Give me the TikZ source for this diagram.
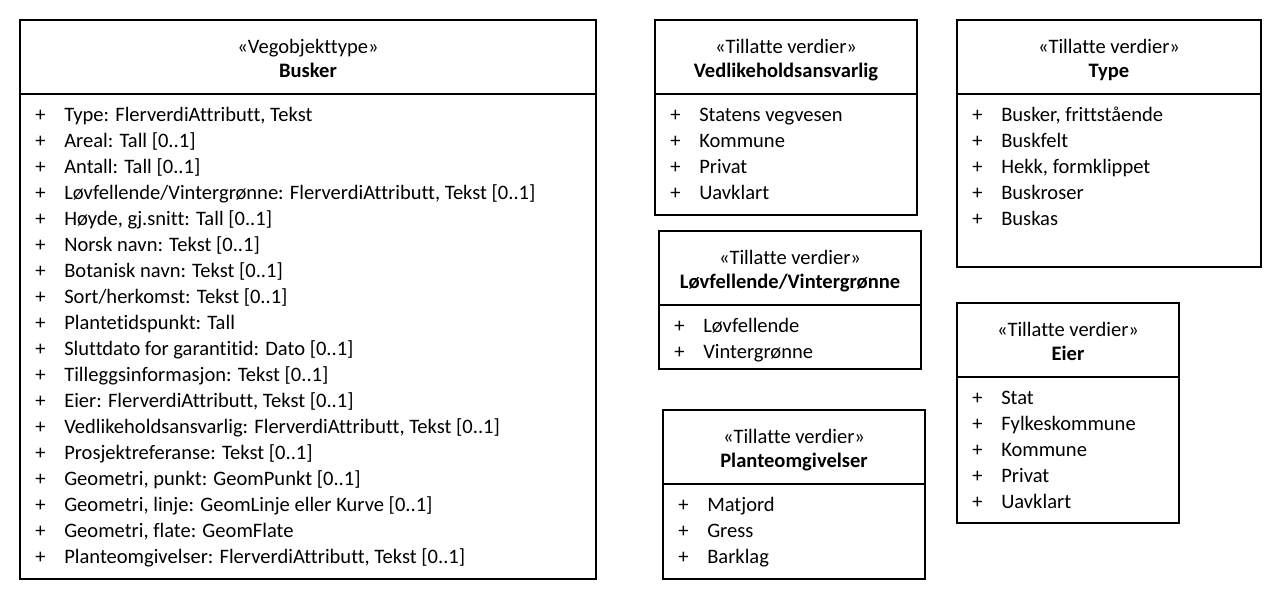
\documentclass[tikz,border=0pt]{standalone}
\usepackage{fontspec}
\setmainfont{Carlito}[Ligatures={NoCommon}]
\begin{document}
\begin{tikzpicture}[x=0.75pt,y=-0.75pt,
  frame/.style={draw=black,line width=0.8pt},
  txt/.style={inner sep=0pt,font=\fontsize{15.4pt}{18pt}\selectfont,text=black},
  title/.style={txt,anchor=base},
  item/.style={txt,anchor=base west}]
\useasboundingbox[fill=white] (0,0) rectangle (1282,600);

% UML class box: left, top, right, bottom, stereotype, name, attribute list
\newcommand\umlclass[7]{%
  \draw[frame] (#1,#2) rectangle (#3,#4);
  \draw[frame] (#1,#2+74) -- (#3,#2+74);
  \node[title] at ({(#1+#3)/2},#2+33) {«#5»};
  \node[title,font=\fontsize{15.4pt}{18pt}\selectfont\bfseries] at ({(#1+#3)/2},#2+57) {#6};
  \foreach \t [count=\i from 0] in {#7} {
    \node[item] at (#1+15,#2+101+26*\i) {+};
    \node[item] at (#1+44,#2+101+26*\i) {\t};
  }%
}

\umlclass{20}{20}{596}{579}{Vegobjekttype}{Busker}{%
  {Type: FlerverdiAttributt, Tekst},
  {Areal: Tall [0..1]},
  {Antall: Tall [0..1]},
  {Løvfellende/Vintergrønne: FlerverdiAttributt, Tekst [0..1]},
  {Høyde, gj.snitt: Tall [0..1]},
  {Norsk navn: Tekst [0..1]},
  {Botanisk navn: Tekst [0..1]},
  {Sort/herkomst: Tekst [0..1]},
  {Plantetidspunkt: Tall},
  {Sluttdato for garantitid: Dato [0..1]},
  {Tilleggsinformasjon: Tekst [0..1]},
  {Eier: FlerverdiAttributt, Tekst [0..1]},
  {Vedlikeholdsansvarlig: FlerverdiAttributt, Tekst [0..1]},
  {Prosjektreferanse: Tekst [0..1]},
  {Geometri, punkt: GeomPunkt [0..1]},
  {Geometri, linje: GeomLinje eller Kurve [0..1]},
  {Geometri, flate: GeomFlate},
  {Planteomgivelser: FlerverdiAttributt, Tekst [0..1]}}

\umlclass{655}{20}{917}{215}{Tillatte verdier}{Vedlikeholdsansvarlig}{%
  Statens vegvesen, Kommune, Privat, Uavklart}

\umlclass{957}{20}{1261}{267}{Tillatte verdier}{Type}{%
  {Busker, frittstående}, Buskfelt, {Hekk, formklippet}, Buskroser, Buskas}

\umlclass{659}{231}{921}{369}{Tillatte verdier}{Løvfellende/Vintergrønne}{%
  Løvfellende, Vintergrønne}

\umlclass{663}{410}{925}{579}{Tillatte verdier}{Planteomgivelser}{%
  Matjord, Gress, Barklag}

\umlclass{957}{303}{1179}{523}{Tillatte verdier}{Eier}{%
  Stat, Fylkeskommune, Kommune, Privat, Uavklart}
\end{tikzpicture}
\end{document}
